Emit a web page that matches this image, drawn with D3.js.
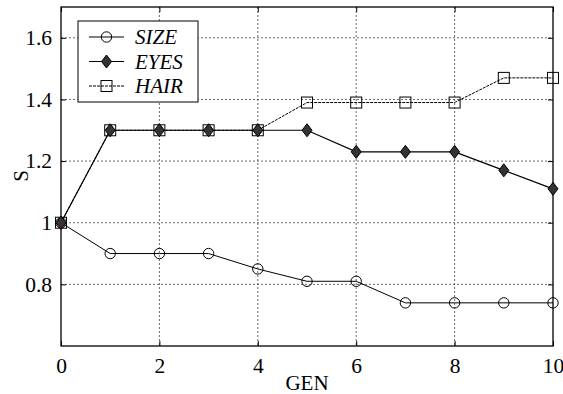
<!DOCTYPE html>
<html>
<head>
<meta charset="utf-8">
<script src="https://cdn.jsdelivr.net/npm/d3@7"></script>
<style>
  body { margin: 0; background: #fff; }
</style>
</head>
<body>
<div id="chart"></div>
<script>
const gens = [0, 1, 2, 3, 4, 5, 6, 7, 8, 9, 10];
const sizeVals = [1.0, 0.90, 0.90, 0.90, 0.85, 0.81, 0.81, 0.74, 0.74, 0.74, 0.74];
const eyesVals = [1.0, 1.30, 1.30, 1.30, 1.30, 1.30, 1.23, 1.23, 1.23, 1.17, 1.11];
const hairVals = [1.0, 1.30, 1.30, 1.30, 1.30, 1.39, 1.39, 1.39, 1.39, 1.47, 1.47];
const xTicks = [0, 2, 4, 6, 8, 10];
const yTicks = [0.8, 1.0, 1.2, 1.4, 1.6];
const seriesNames = ["SIZE", "EYES", "HAIR"];

const serif = "'Liberation Serif', 'Times New Roman', serif";
const width = 563, height = 394;
const margin = { top: 7, right: 10, bottom: 48, left: 61 };
const w = width - margin.left - margin.right;
const h = height - margin.top - margin.bottom;

const svg = d3.select("#chart").append("svg")
    .attr("width", width)
    .attr("height", height)
    .attr("font-family", serif);

const g = svg.append("g")
    .attr("transform", `translate(${margin.left},${margin.top})`);

const x = d3.scaleLinear().domain([0, 10]).range([0, w]);
const y = d3.scaleLinear().domain([0.6, 1.7]).range([h, 0]);

// grid
g.append("g").selectAll("line").data(xTicks.slice(1, -1)).enter().append("line")
    .attr("x1", d => x(d)).attr("x2", d => x(d))
    .attr("y1", 0).attr("y2", h)
    .attr("stroke", "#444").attr("stroke-width", 0.8)
    .attr("stroke-dasharray", "2,2");
g.append("g").selectAll("line").data(yTicks).enter().append("line")
    .attr("x1", 0).attr("x2", w)
    .attr("y1", d => y(d)).attr("y2", d => y(d))
    .attr("stroke", "#444").attr("stroke-width", 0.8)
    .attr("stroke-dasharray", "2,2");

// axes with inward ticks
const fmtY = d => d === 1 ? "1" : d.toFixed(1);
const xAxis = g.append("g")
    .attr("transform", `translate(0,${h})`)
    .call(d3.axisBottom(x).tickValues(xTicks).tickSizeInner(-5).tickSizeOuter(0).tickPadding(12));
const yAxis = g.append("g")
    .call(d3.axisLeft(y).tickValues(yTicks).tickFormat(fmtY).tickSizeInner(-5).tickSizeOuter(0).tickPadding(9));
const xTop = g.append("g")
    .call(d3.axisTop(x).tickValues(xTicks).tickSizeInner(-5).tickSizeOuter(0).tickFormat(""));
const yRight = g.append("g")
    .attr("transform", `translate(${w},0)`)
    .call(d3.axisRight(y).tickValues(yTicks).tickSizeInner(-5).tickSizeOuter(0).tickFormat(""));

[xAxis, yAxis, xTop, yRight].forEach(a => {
    a.attr("font-family", serif).attr("font-size", 21.5);
    a.selectAll("path").remove();
    a.selectAll("line").attr("stroke", "#000");
    a.selectAll("text").attr("fill", "#000");
});

g.append("rect")
    .attr("x", 0).attr("y", 0).attr("width", w).attr("height", h)
    .attr("fill", "none").attr("stroke", "#000").attr("stroke-width", 1.3);

const line = d3.line().x((d, i) => x(gens[i])).y(d => y(d));

// lines
g.append("path").datum(sizeVals).attr("d", line)
    .attr("fill", "none").attr("stroke", "#000").attr("stroke-width", 1);
g.append("path").datum(hairVals).attr("d", line)
    .attr("fill", "none").attr("stroke", "#000").attr("stroke-width", 1)
    .attr("stroke-dasharray", "3,1");
g.append("path").datum(eyesVals).attr("d", line)
    .attr("fill", "none").attr("stroke", "#000").attr("stroke-width", 1.2);

// markers
function circleMarker(sel) {
    sel.append("circle").attr("r", 5.2)
        .attr("fill", "none").attr("stroke", "#000").attr("stroke-width", 1);
}
function squareMarker(sel) {
    sel.append("rect").attr("x", -5.5).attr("y", -5.5).attr("width", 11).attr("height", 11)
        .attr("fill", "none").attr("stroke", "#000").attr("stroke-width", 1);
}
function diamondMarker(sel) {
    sel.append("path").attr("d", "M0,-6.5L5,0L0,6.5L-5,0Z")
        .attr("fill", "#333").attr("stroke", "#000").attr("stroke-width", 1);
}

g.append("g").selectAll("g").data(sizeVals).enter().append("g")
    .attr("transform", (d, i) => `translate(${x(gens[i])},${y(d)})`)
    .call(circleMarker);
g.append("g").selectAll("g").data(hairVals).enter().append("g")
    .attr("transform", (d, i) => `translate(${x(gens[i])},${y(d)})`)
    .call(squareMarker);
g.append("g").selectAll("g").data(eyesVals).enter().append("g")
    .attr("transform", (d, i) => `translate(${x(gens[i])},${y(d)})`)
    .call(diamondMarker);

// legend
const legend = g.append("g").attr("transform", "translate(17,14)");
legend.append("rect")
    .attr("width", 120).attr("height", 81)
    .attr("fill", "#fff").attr("stroke", "#000").attr("stroke-width", 1);
const markerFns = [circleMarker, diamondMarker, squareMarker];
const dashes = [null, null, "3,1"];
const widths = [1, 1.2, 1];
seriesNames.forEach((name, i) => {
    const row = legend.append("g").attr("transform", `translate(0,${16 + i * 24.5})`);
    row.append("line").attr("x1", 11).attr("x2", 46).attr("y1", 0).attr("y2", 0)
        .attr("stroke", "#000").attr("stroke-width", widths[i])
        .attr("stroke-dasharray", dashes[i]);
    row.append("g").attr("transform", "translate(28.5,0)").call(markerFns[i]);
    row.append("text").attr("x", 57).attr("y", 7)
        .attr("font-size", 21).attr("font-style", "italic")
        .text(name);
});

// axis labels
svg.append("text")
    .attr("x", margin.left + w / 2).attr("y", 390)
    .attr("text-anchor", "middle")
    .attr("font-size", 21)
    .text("GEN");
svg.append("text")
    .attr("transform", `translate(28,176) rotate(-90)`)
    .attr("text-anchor", "middle")
    .attr("font-size", 21)
    .text("S");
</script>
</body>
</html>
